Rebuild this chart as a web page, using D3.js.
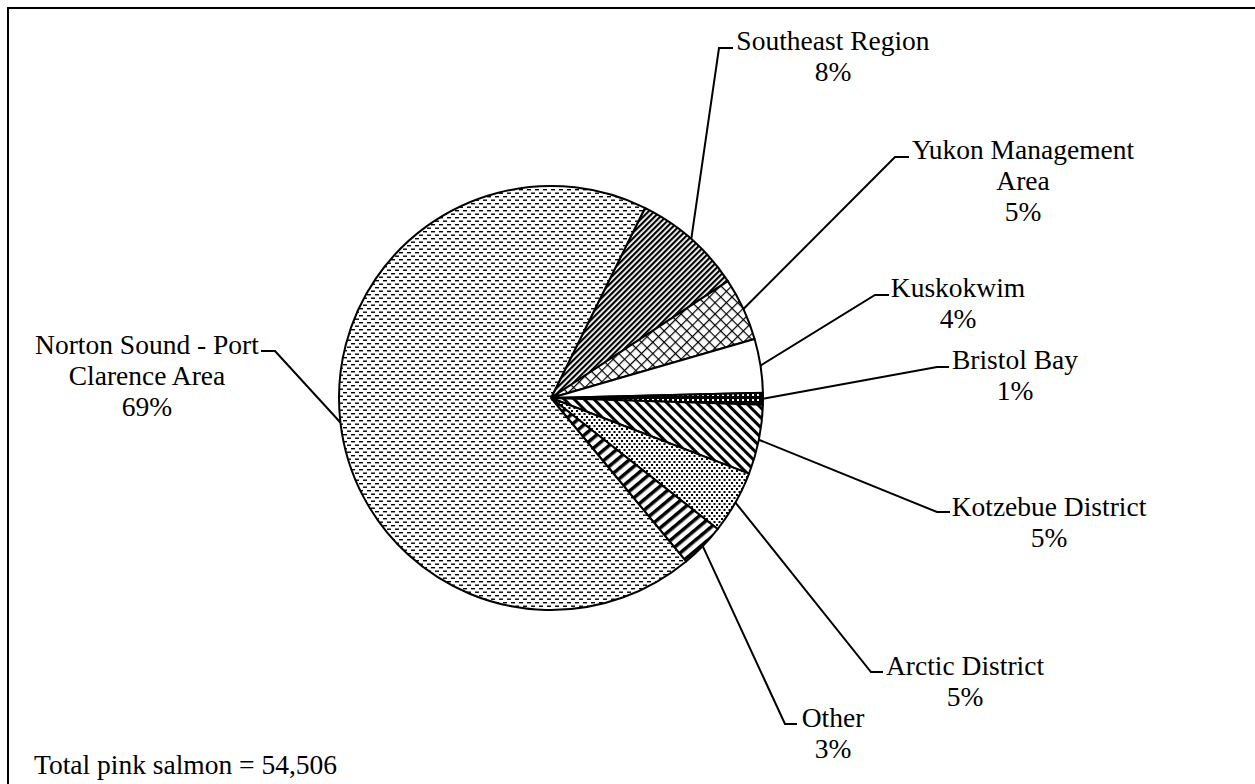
<!DOCTYPE html>
<html>
<head>
<meta charset="utf-8">
<script src="https://cdn.jsdelivr.net/npm/d3@7"></script>
<style>
  body { margin: 0; background: #fff; }
  text { font-family: "Liberation Serif", "Times New Roman", serif; font-size: 27.5px; fill: #000; }
</style>
</head>
<body>
<div id="chart"></div>
<script>
// slices, clockwise from Southeast Region (percent of total)
var regions = ["Southeast Region", "Yukon Management Area", "Kuskokwim", "Bristol Bay",
  "Kotzebue District", "Arctic District", "Other", "Norton Sound - Port Clarence Area"];
var shares = [8.4, 4.8, 4.1, 0.9, 5.3, 4.8, 3.4, 68.3];
var pctLabels = ["8%", "5%", "4%", "1%", "5%", "5%", "3%", "69%"];
var total = "54,506";

var width = 1255, height = 784;
var cx = 551, cy = 398, r = 212;

var svg = d3.select("#chart").append("svg")
  .attr("width", width)
  .attr("height", height);

var defs = svg.append("defs");

// fill patterns, one per slice
function stripes(id, w, bw, angle) {
  var p = defs.append("pattern").attr("id", id)
    .attr("patternUnits", "userSpaceOnUse")
    .attr("width", w).attr("height", w)
    .attr("patternTransform", "rotate(" + angle + ")");
  p.append("rect").attr("width", w).attr("height", w).attr("fill", "#fff");
  p.append("rect").attr("width", bw).attr("height", w).attr("fill", "#000");
}
stripes("p-southeast", 4, 2.2, 45);
stripes("p-kotzebue", 7, 3, -45);
stripes("p-other", 8, 3.5, 50);

var py = defs.append("pattern").attr("id", "p-yukon")
  .attr("patternUnits", "userSpaceOnUse").attr("width", 8).attr("height", 8)
  .attr("patternTransform", "rotate(45)");
py.append("rect").attr("width", 8).attr("height", 8).attr("fill", "#fff");
py.append("rect").attr("width", 1.2).attr("height", 8).attr("fill", "#000");
py.append("rect").attr("width", 8).attr("height", 1.2).attr("fill", "#000");

var pb = defs.append("pattern").attr("id", "p-bristol")
  .attr("patternUnits", "userSpaceOnUse").attr("width", 5).attr("height", 5);
pb.append("rect").attr("width", 5).attr("height", 5).attr("fill", "#000");
pb.append("rect").attr("x", 1).attr("y", 1).attr("width", 2).attr("height", 2).attr("fill", "#fff");

var pa = defs.append("pattern").attr("id", "p-arctic")
  .attr("patternUnits", "userSpaceOnUse").attr("width", 5).attr("height", 6);
pa.append("rect").attr("width", 5).attr("height", 6).attr("fill", "#fff");
pa.append("rect").attr("x", 0).attr("y", 0).attr("width", 2).attr("height", 2).attr("fill", "#000");
pa.append("rect").attr("x", 2.5).attr("y", 3).attr("width", 2).attr("height", 2).attr("fill", "#000");

var pn = defs.append("pattern").attr("id", "p-norton")
  .attr("patternUnits", "userSpaceOnUse").attr("width", 8).attr("height", 7);
pn.append("rect").attr("width", 8).attr("height", 7).attr("fill", "#fff");
pn.append("rect").attr("x", 0).attr("y", 1).attr("width", 4).attr("height", 1.4).attr("fill", "#000");
pn.append("rect").attr("x", 4).attr("y", 4.5).attr("width", 4).attr("height", 1.4).attr("fill", "#000");

var fills = ["url(#p-southeast)", "url(#p-yukon)", "#fff", "url(#p-bristol)",
  "url(#p-kotzebue)", "url(#p-arctic)", "url(#p-other)", "url(#p-norton)"];

// frame
svg.append("rect")
  .attr("x", 8).attr("y", 8)
  .attr("width", width).attr("height", height)
  .attr("fill", "none").attr("stroke", "#000").attr("stroke-width", 2);

var start = 26.3 * Math.PI / 180;
var pie = d3.pie().sort(null).startAngle(start).endAngle(start + 2 * Math.PI);
var arc = d3.arc().innerRadius(0).outerRadius(r);
var arcs = pie(shares);

var g = svg.append("g").attr("transform", "translate(" + cx + "," + cy + ")");
g.selectAll("path.slice")
  .data(arcs)
  .enter().append("path")
  .attr("class", "slice")
  .attr("d", arc)
  .attr("fill", function(d, i) { return fills[i]; })
  .attr("stroke", "#000")
  .attr("stroke-width", 2)
  .attr("stroke-linejoin", "round");

// label spots: elbow point of the leader, text centre x, first line y
var labels = [
  { elbow: [719, 48], end: [733, 48], tx: 833, lines: ["Southeast Region"], y: 40 },
  { elbow: [895, 157], end: [909, 157], tx: 1023, lines: ["Yukon Management", "Area"], y: 149 },
  { elbow: [875, 295], end: [889, 295], tx: 958, lines: ["Kuskokwim"], y: 287 },
  { elbow: [937, 367], end: [949, 367], tx: 1015, lines: ["Bristol Bay"], y: 359 },
  { elbow: [937, 512], end: [950, 512], tx: 1049, lines: ["Kotzebue District"], y: 506 },
  { elbow: [871, 672], end: [883, 672], tx: 965, lines: ["Arctic District"], y: 665 },
  { elbow: [785, 724], end: [797, 724], tx: 833, lines: ["Other"], y: 717 },
  { elbow: [275, 351], end: [261, 351], tx: 147, lines: ["Norton Sound - Port", "Clarence Area"], y: 344 }
];

var lineH = 31;
arcs.forEach(function(d, i) {
  var lab = labels[i];
  var mid = (d.startAngle + d.endAngle) / 2;
  var p0 = [cx + r * Math.sin(mid), cy - r * Math.cos(mid)];
  svg.append("polyline")
    .attr("points", [p0, lab.elbow, lab.end].map(function(p) { return p.join(","); }).join(" "))
    .attr("fill", "none")
    .attr("stroke", "#000")
    .attr("stroke-width", 2);

  var t = svg.append("text")
    .attr("text-anchor", "middle");
  var rows = lab.lines.concat([pctLabels[i]]);
  rows.forEach(function(s, k) {
    t.append("tspan")
      .attr("x", lab.tx)
      .attr("y", lab.y + k * lineH)
      .attr("dy", "0.35em")
      .text(s);
  });
});

svg.append("text")
  .attr("x", 34)
  .attr("y", 764)
  .attr("dy", "0.35em")
  .text("Total pink salmon = " + total);
</script>
</body>
</html>
